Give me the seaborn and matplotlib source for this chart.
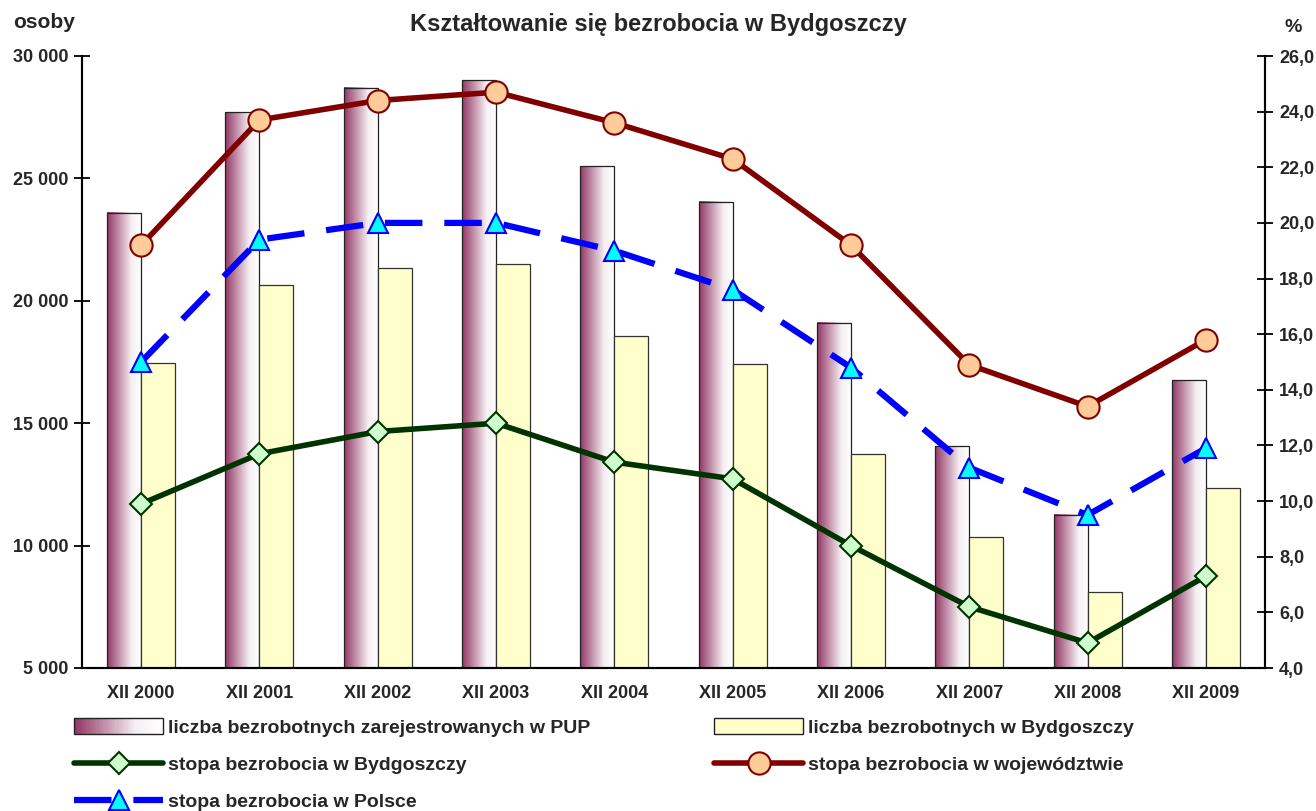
import numpy as np
import pandas as pd
import seaborn as sns
import matplotlib
matplotlib.use("Agg")
import matplotlib.pyplot as plt
from matplotlib.colors import LinearSegmentedColormap
from matplotlib.legend_handler import HandlerBase
from matplotlib.lines import Line2D
from matplotlib.patches import Patch, Rectangle

# --- data ---
years = ["XII 2000", "XII 2001", "XII 2002", "XII 2003", "XII 2004",
         "XII 2005", "XII 2006", "XII 2007", "XII 2008", "XII 2009"]
pup = [23600, 27700, 28700, 29000, 25500, 24050, 19100, 14050, 11250, 16750]
bydg = [17450, 20650, 21350, 21500, 18550, 17400, 13750, 10350, 8100, 12350]
rate_bydg = [9.9, 11.7, 12.5, 12.8, 11.4, 10.8, 8.4, 6.2, 4.9, 7.3]
rate_woj = [19.2, 23.7, 24.4, 24.7, 23.6, 22.3, 19.2, 14.9, 13.4, 15.8]
rate_pl = [15.0, 19.4, 20.0, 20.0, 19.0, 17.6, 14.8, 11.2, 9.5, 11.9]

lab_pup = "liczba bezrobotnych zarejestrowanych w PUP"
lab_byd = "liczba bezrobotnych w Bydgoszczy"
lab_rb = "stopa bezrobocia w Bydgoszczy"
lab_rw = "stopa bezrobocia w województwie"
lab_rp = "stopa bezrobocia w Polsce"

left_ticks = [5000, 10000, 15000, 20000, 25000, 30000]
right_ticks = [4, 6, 8, 10, 12, 14, 16, 18, 20, 22, 24, 26]

MAROON = "#923765"
YELLOW = "#FFFFCC"

sns.set_style("white")
plt.rcParams["font.family"] = ["Liberation Sans", "DejaVu Sans"]
plt.rcParams["font.weight"] = "bold"

grad_cmap = LinearSegmentedColormap.from_list(
    "pup", [(0.0, MAROON), (0.7, "#F6F0F3"), (1.0, "#FFFFFF")])


class GradientHandler(HandlerBase):
    # legend swatch with the same left-to-right fade as the bars
    def create_artists(self, legend, orig_handle, xdescent, ydescent,
                       width, height, fontsize, trans):
        n = 40
        arts = []
        for i in range(n):
            arts.append(Rectangle((-xdescent + i * width / n, -ydescent), width / n * 1.05, height,
                                  facecolor=grad_cmap(i / (n - 1)), edgecolor="none",
                                  transform=trans))
        arts.append(Rectangle((-xdescent, -ydescent), width, height, facecolor="none",
                              edgecolor="#222222", lw=1.0, transform=trans))
        return arts


df = pd.DataFrame({
    "rok": years * 2,
    "osoby": pup + bydg,
    "seria": [lab_pup] * len(years) + [lab_byd] * len(years),
})

fig = plt.figure(figsize=(13.16, 8.11), dpi=100)
ax = fig.add_subplot(111)
fig.subplots_adjust(left=82 / 1316, right=1265 / 1316, bottom=(811 - 668) / 811, top=(811 - 56) / 811)

sns.barplot(data=df, x="rok", y="osoby", hue="seria", palette=[MAROON, YELLOW],
            width=0.575, gap=0, edgecolor="#333333", linewidth=0.9, legend=False, ax=ax,
            saturation=1)

# gradient fill for PUP bars
ramp = np.linspace(0, 1, 200).reshape(1, -1)
for patch in ax.containers[0]:
    x0, w, h = patch.get_x(), patch.get_width(), patch.get_height()
    ax.imshow(ramp, extent=[x0, x0 + w, 0, h], aspect="auto", cmap=grad_cmap,
              interpolation="bilinear", zorder=patch.get_zorder() - 0.01)
    patch.set_facecolor("none")
    patch.set_edgecolor("#222222")

ax.set_xlim(-0.5, 9.5)
ax.set_ylim(5000, 30000)
ax.set_yticks(left_ticks)
ax.set_yticklabels([f"{v:,}".replace(",", " ") for v in left_ticks])
ax.set_xticks(np.arange(-0.5, 10, 1))
ax.set_xticklabels([])
ax.set_xticks(np.arange(10), minor=True)
ax.set_xticklabels(years, minor=True)
ax.set_xlabel("")
ax.set_ylabel("")
ax.tick_params(axis="x", which="major", direction="inout", length=12, width=1.3, color="black")
ax.tick_params(axis="x", which="minor", length=0, pad=12, labelsize=13)
ax.tick_params(axis="y", direction="inout", length=12, width=1.3, color="black",
               labelsize=13, pad=4)
for lbl in ax.get_yticklabels() + ax.get_xticklabels(minor=True):
    lbl.set_fontweight("bold")

ax2 = ax.twinx()
x = np.arange(len(years))
sns.lineplot(x=x, y=rate_bydg, ax=ax2, color="#003300", lw=4, marker="D", markersize=11,
             markerfacecolor="#CCFFCC", markeredgecolor="#003300", markeredgewidth=1.5,
             sort=False, zorder=3)
sns.lineplot(x=x, y=rate_woj, ax=ax2, color="#800000", lw=4, marker="o", markersize=16,
             markerfacecolor="#FFCC99", markeredgecolor="#800000", markeredgewidth=1.5,
             sort=False, zorder=4)
sns.lineplot(x=x, y=rate_pl, ax=ax2, color="#0000FF", lw=4.5, marker="^", markersize=15,
             markerfacecolor="#00FFFF", markeredgecolor="#0000FF", markeredgewidth=1.5,
             linestyle=(0, (6, 3.5)), sort=False, zorder=5)
ax2.set_ylim(4, 26)
ax2.set_yticks(right_ticks)
ax2.set_yticklabels([f"{v:.1f}".replace(".", ",") for v in right_ticks])
ax2.set_xlim(-0.5, 9.5)
ax2.set_ylabel("")
ax2.tick_params(axis="y", direction="inout", length=12, width=1.3, color="black",
                labelsize=13, pad=4)
for lbl in ax2.get_yticklabels():
    lbl.set_fontweight("bold")

for a in (ax, ax2):
    for side in ("left", "right", "bottom"):
        a.spines[side].set_visible(True)
        a.spines[side].set_color("black")
        a.spines[side].set_linewidth(1.5)
    a.spines["top"].set_visible(False)

fig.text(658 / 1316, 1 - 25 / 811, "Kształtowanie się bezrobocia w Bydgoszczy",
         ha="center", va="center", fontsize=17, fontweight="bold")
fig.text(44 / 1316, 1 - 22 / 811, "osoby", ha="center", va="center", fontsize=15, fontweight="bold")
fig.text(1293 / 1316, 1 - 28 / 811, "%", ha="center", va="center", fontsize=14, fontweight="bold")

h_pup = Patch(facecolor=MAROON, edgecolor="#222222")
h_byd = Patch(facecolor=YELLOW, edgecolor="#222222", lw=1.0)
h_rb = Line2D([], [], color="#003300", lw=4, marker="D", markersize=11,
              markerfacecolor="#CCFFCC", markeredgecolor="#003300", markeredgewidth=1.5)
h_rw = Line2D([], [], color="#800000", lw=4, marker="o", markersize=16,
              markerfacecolor="#FFCC99", markeredgecolor="#800000", markeredgewidth=1.5)
h_rp = Line2D([], [], color="#0000FF", lw=4.5, marker="^", markersize=15, linestyle=(0, (6, 3.5)),
              markerfacecolor="#00FFFF", markeredgecolor="#0000FF", markeredgewidth=1.5)

leg_kw = dict(frameon=False, prop={"weight": "bold", "size": 14},
              handlelength=4.6, handleheight=0.9, handletextpad=0.25, labelspacing=0.95,
              borderpad=0, borderaxespad=0)
fig.legend([h_pup, h_rb, h_rp], [lab_pup, lab_rb, lab_rp], loc="upper left",
           bbox_to_anchor=(74 / 1316, 1 - 718 / 811), handler_map={h_pup: GradientHandler()},
           **leg_kw)
fig.legend([h_byd, h_rw], [lab_byd, lab_rw], loc="upper left",
           bbox_to_anchor=(714 / 1316, 1 - 718 / 811), **leg_kw)

fig.savefig("out.png", dpi=100, facecolor="white")
